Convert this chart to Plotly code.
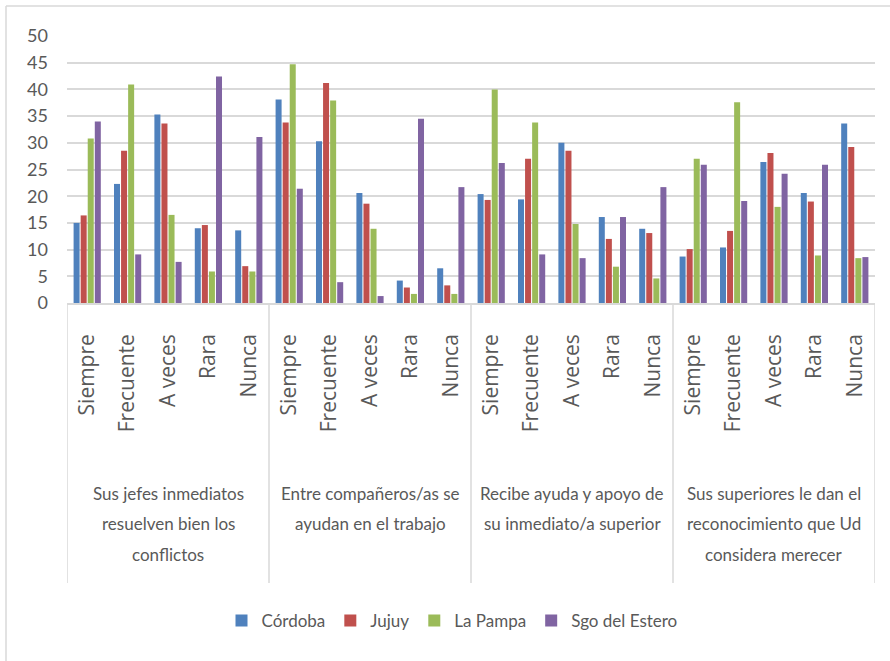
import plotly.graph_objects as go

# ---------------- data ----------------
groups = [
    ["Sus jefes inmediatos", "resuelven bien los", "conflictos"],
    ["Entre compañeros/as se", "ayudan en el trabajo"],
    ["Recibe ayuda y apoyo de", "su inmediato/a superior"],
    ["Sus superiores le dan el", "reconocimiento que Ud", "considera merecer"],
]
answers = ["Siempre", "Frecuente", "A veces", "Rara", "Nunca"]
series_names = ["Córdoba", "Jujuy", "La Pampa", "Sgo del Estero"]

cordoba = [15.0, 22.3, 35.3, 14.0, 13.6,
           38.1, 30.3, 20.6, 4.2, 6.5,
           20.4, 19.4, 30.0, 16.1, 13.9,
           8.7, 10.4, 26.4, 20.6, 33.6]
jujuy = [16.4, 28.5, 33.6, 14.6, 6.9,
         33.8, 41.2, 18.6, 2.9, 3.3,
         19.3, 27.0, 28.5, 12.0, 13.1,
         10.1, 13.5, 28.1, 19.0, 29.2]
la_pampa = [30.8, 40.9, 16.5, 5.9, 5.9,
            44.7, 37.9, 13.9, 1.7, 1.7,
            40.0, 33.8, 14.8, 6.8, 4.6,
            27.0, 37.6, 18.0, 8.9, 8.4]
sgo = [34.0, 9.1, 7.7, 42.4, 31.1,
       21.4, 3.9, 1.3, 34.5, 21.7,
       26.2, 9.1, 8.4, 16.1, 21.7,
       25.9, 19.1, 24.2, 25.9, 8.6]
series_values = [cordoba, jujuy, la_pampa, sgo]
colors = ["#4F81BD", "#C0504D", "#9BBB59", "#8064A2"]
y_ticks = [0, 5, 10, 15, 20, 25, 30, 35, 40, 45, 50]

# ---------------- layout constants ----------------
W, H = 890, 661
ML, MR, MT, MB = 67, 15, 36, 358
PW, PH = W - ML - MR, H - MT - MB
FONT = "Lato, sans-serif"
TICKFONT = "'Open Sans', sans-serif"
GREY = "#595959"
LINE = "#D9D9D9"

def py(pixel_y):
    return (H - MB - pixel_y) / PH

def px(pixel_x):
    return (pixel_x - ML) / PW

n_ans = len(answers)
xpos = [g * n_ans + a for g in range(len(groups)) for a in range(n_ans)]
xlabels = [answers[a] for g in range(len(groups)) for a in range(n_ans)]

fig = go.Figure()
for name, vals, col in zip(series_names, series_values, colors):
    fig.add_trace(go.Bar(x=xpos, y=vals, name=name, marker_color=col,
                         marker_line_width=0))

shapes = []
# group dividers
for g in range(len(groups) + 1):
    xd = g * n_ans - 0.5
    shapes.append(dict(type="line", xref="x", yref="paper", x0=xd, x1=xd,
                       y0=0, y1=py(583), line=dict(color=LINE, width=1.5)))
# outer border (top and left)
shapes.append(dict(type="line", xref="paper", yref="paper", x0=px(6), x1=px(W + 5),
                   y0=py(6), y1=py(6), line=dict(color=LINE, width=1.5)))
shapes.append(dict(type="line", xref="paper", yref="paper", x0=px(6), x1=px(6),
                   y0=py(6), y1=py(H + 5), line=dict(color=LINE, width=1.5)))

annotations = []
line_y = [493, 523, 554]
for g, lines in enumerate(groups):
    for k, txt in enumerate(lines):
        annotations.append(dict(x=g * n_ans + 2, xref="x", y=py(line_y[k]), yref="paper",
                                text=txt, showarrow=False, xanchor="center", yanchor="middle",
                                font=dict(family=FONT, size=17, color=GREY)))

fig.update_layout(
    width=W, height=H,
    margin=dict(l=ML, r=MR, t=MT, b=MB),
    paper_bgcolor="white", plot_bgcolor="white",
    barmode="group", bargap=0.3, bargroupgap=0.15,
    font=dict(family=FONT, color=GREY),
    showlegend=True,
    legend=dict(orientation="h", x=px(452), xanchor="center", y=py(621), yanchor="middle",
                font=dict(family=FONT, size=17, color=GREY), itemwidth=30,
                traceorder="normal"),
    shapes=shapes,
    annotations=annotations,
    xaxis=dict(range=[-0.5, len(xpos) - 0.5], tickmode="array", tickvals=xpos,
               ticktext=xlabels, tickangle=-90, ticklabelstandoff=21,
               tickfont=dict(family=TICKFONT, size=21, color=GREY),
               showgrid=False, zeroline=False, showline=True, linecolor=LINE,
               linewidth=1.5, ticks=""),
    yaxis=dict(range=[0, 50], tickmode="array", tickvals=y_ticks,
               tickfont=dict(family=FONT, size=18, color=GREY),
               showgrid=True, gridcolor=LINE, gridwidth=2, zeroline=False,
               showline=False, ticks="", ticklabelstandoff=18),
)

fig.write_html("out.html")
